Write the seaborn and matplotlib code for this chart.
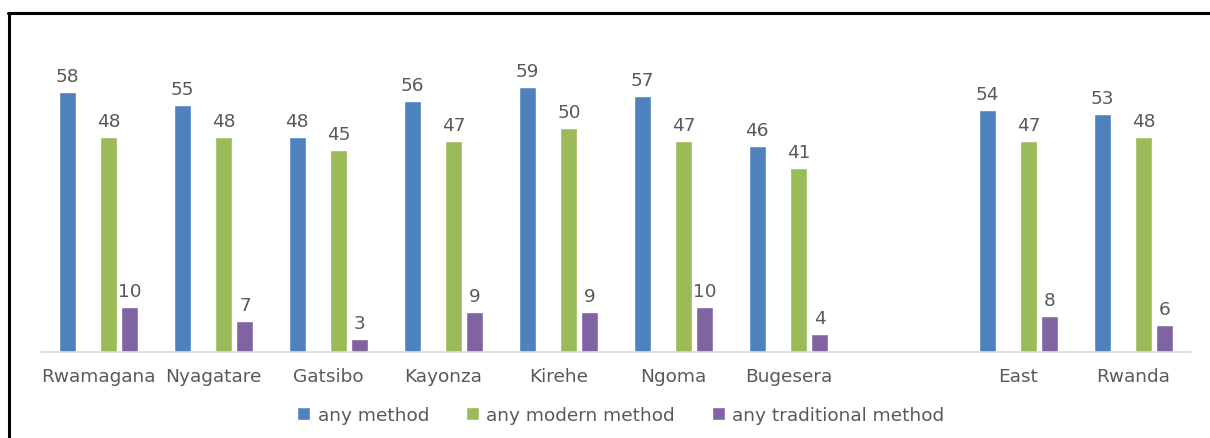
import pandas as pd
import seaborn as sns
import matplotlib.pyplot as plt
from matplotlib.lines import Line2D
from matplotlib.patches import Patch

# DATI
districts = ["Rwamagana", "Nyagatare", "Gatsibo", "Kayonza", "Kirehe",
             "Ngoma", "Bugesera", " ", "East", "Rwanda"]
any_method = [58, 55, 48, 56, 59, 57, 46, None, 54, 53]
any_modern = [48, 48, 45, 47, 50, 47, 41, None, 47, 48]
any_traditional = [10, 7, 3, 9, 9, 10, 4, None, 8, 6]

series = ["any method", "any modern method", "any traditional method"]
colors = ["#4F81BD", "#9BBB59", "#8064A2"]

rows = []
for name, vals in zip(series, [any_method, any_modern, any_traditional]):
    for d, v in zip(districts, vals):
        if v is not None:
            rows.append({"district": d, "method": name, "value": v})
df = pd.DataFrame(rows)

# slot vuoto tra la prima e la seconda serie (come nel grafico originale)
hue_order = [series[0], "_gap", series[1], series[2]]
palette = {series[0]: colors[0], "_gap": "white",
           series[1]: colors[1], series[2]: colors[2]}

sns.set_style("white")
plt.rcParams["font.family"] = ["DejaVu Sans"]
FS = 13.3
GREY = "#595959"

fig = plt.figure(figsize=(12.1, 4.39), dpi=100)
ax = fig.add_axes([41 / 1210, 86 / 439, 1150 / 1210, 314 / 439])

sns.barplot(data=df, x="district", y="value", hue="method",
            order=districts, hue_order=hue_order, palette=palette,
            width=0.73, gap=0.19, legend=False, ax=ax, saturation=1)

for c in ax.containers:
    ax.bar_label(c, fmt="%g", padding=5, fontsize=FS, color=GREY)

ax.set_ylim(0, 70)
ax.set_xlim(-0.5, len(districts) - 0.5)
ax.set_xlabel("")
ax.set_ylabel("")
ax.set_yticks([])
ax.tick_params(axis="x", length=0, labelsize=FS, labelcolor=GREY, pad=11)
for s in ["top", "right", "left"]:
    ax.spines[s].set_visible(False)
ax.spines["bottom"].set_color("#D9D9D9")
ax.spines["bottom"].set_linewidth(1.2)

handles = [Patch(facecolor=col, label=lab) for col, lab in zip(colors, series)]
fig.legend(handles=handles, loc="center", bbox_to_anchor=(0.513, 23 / 439),
           ncol=3, frameon=False, fontsize=FS, labelcolor=GREY,
           handlelength=0.7, handleheight=0.7, handletextpad=0.4,
           columnspacing=2.0)

# cornice
fig.add_artist(Line2D([8 / 1210, 1], [1 - 14 / 439, 1 - 14 / 439],
                      color="black", lw=2.2, transform=fig.transFigure))
fig.add_artist(Line2D([9 / 1210, 9 / 1210], [0, 1 - 14 / 439],
                      color="black", lw=2.2, transform=fig.transFigure))

fig.savefig("out.png", dpi=100)
